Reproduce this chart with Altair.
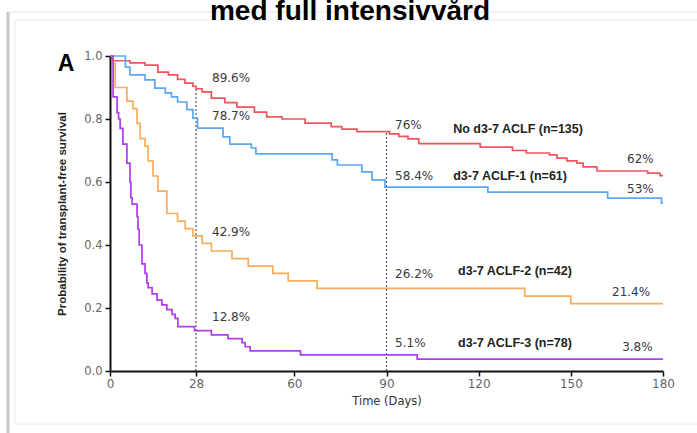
import altair as alt
import pandas as pd

# ---- data ----
series_names = ["No d3-7 ACLF", "d3-7 ACLF-1", "d3-7 ACLF-2", "d3-7 ACLF-3"]
series_colors = ["#f0545c", "#5ba8f0", "#f6ad5c", "#b03cf0"]

red_t = [0, 1, 6.5, 11.4, 15.6, 19, 22, 24.4, 27, 28, 30, 33, 37.4, 41.3, 47, 51, 56, 63.5, 72, 75.5, 80.4,
         91, 94, 97, 100.5, 120.5, 131, 135.5, 143, 145.5, 148.7, 152, 154, 158.5, 175, 179, 180]
red_s = [1.0, 0.985, 0.978, 0.971, 0.949, 0.94, 0.926, 0.914, 0.904, 0.896, 0.886, 0.866, 0.852, 0.838, 0.822,
         0.807, 0.8, 0.787, 0.776, 0.768, 0.76, 0.753, 0.745, 0.737, 0.722, 0.711, 0.70, 0.692, 0.686, 0.676,
         0.667, 0.66, 0.648, 0.635, 0.628, 0.62, 0.62]

blue_t = [0, 5, 6.5, 11.4, 14.6, 18, 20, 22, 25, 27, 28.5, 36.8, 39, 46, 47.5, 72.3, 74, 82, 85.3, 89.5,
          123, 162, 179.5, 180]
blue_s = [1.0, 0.965, 0.94, 0.924, 0.898, 0.883, 0.87, 0.854, 0.83, 0.803, 0.771, 0.743, 0.72, 0.708, 0.689,
          0.67, 0.654, 0.632, 0.607, 0.584, 0.568, 0.549, 0.533, 0.533]

orange_t = [0, 1, 1.7, 5.5, 7.5, 8.8, 9.8, 11.4, 12.4, 14, 15.6, 18.5, 22, 24.5, 27, 30, 33, 39.7, 45, 53,
            58, 67.4, 135, 150, 180]
orange_s = [1.0, 0.976, 0.9, 0.857, 0.833, 0.786, 0.738, 0.714, 0.667, 0.619, 0.571, 0.50, 0.476, 0.452,
            0.429, 0.405, 0.381, 0.357, 0.333, 0.31, 0.286, 0.262, 0.238, 0.214, 0.214]

purple_t = [0, 1, 2.3, 2.8, 3.3, 4.2, 5.5, 6.5, 6.8, 7.2, 8.8, 9.1, 9.5, 10.4, 11.4, 12, 12.4, 13.7, 15.3,
            16.9, 18.5, 20.2, 21.2, 22.1, 27.5, 33, 38.4, 43, 44, 45.6, 62, 100, 180]
purple_s = [1.0, 0.87, 0.82, 0.80, 0.77, 0.72, 0.66, 0.60, 0.55, 0.53, 0.49, 0.45, 0.40, 0.34, 0.31, 0.28,
            0.265, 0.245, 0.225, 0.21, 0.195, 0.18, 0.167, 0.141, 0.128, 0.115, 0.103, 0.09, 0.077, 0.064,
            0.051, 0.038, 0.038]

# dotted reference lines (time, upper end on the top curve)
ref_t = [28, 90]
ref_top = [0.896, 0.76]

# percentage annotations (anchor time, anchor survival, text)
pct_t = [33.2, 33.2, 33.2, 33.2, 92.8, 92.8, 92.8, 92.8, 168.3, 168.3, 163.4, 166.7]
pct_s = [0.930, 0.810, 0.441, 0.171, 0.781, 0.619, 0.308, 0.089, 0.673, 0.578, 0.251, 0.076]
pct_text = ["89.6%", "78.7%", "42.9%", "12.8%", "76%", "58.4%", "26.2%", "5.1%", "62%", "53%", "21.4%", "3.8%"]

# group name annotations
name_t = [111.7, 111.7, 113.3, 113.3]
name_s = [0.768, 0.619, 0.317, 0.089]
name_text = ["No d3-7 ACLF (n=135)", "d3-7 ACLF-1 (n=61)", "d3-7 ACLF-2 (n=42)", "d3-7 ACLF-3 (n=78)"]

x_ticks = [0, 28, 60, 90, 120, 150, 180]
y_ticks = [0, 0.2, 0.4, 0.6, 0.8, 1.0]

# ---- tables ----
rows = []
for name, ts, ss in zip(series_names, [red_t, blue_t, orange_t, purple_t], [red_s, blue_s, orange_s, purple_s]):
    for t, s in zip(ts, ss):
        rows.append({"group": name, "t": t, "s": s})
curves = pd.DataFrame(rows)
refs = pd.DataFrame({"t": ref_t, "top": ref_top, "bottom": [0, 0]})
pcts = pd.DataFrame({"t": pct_t, "s": pct_s, "label": pct_text})
names = pd.DataFrame({"t": name_t, "s": name_s, "label": name_text})
one = pd.DataFrame({"k": [0]})

W, H = 553, 315
PL, PT = 110, 56

xscale = alt.Scale(domain=[0, 180], nice=False, zero=False)
yscale = alt.Scale(domain=[0, 1], nice=False)

xaxis = alt.Axis(values=x_ticks, title="Time (Days)", grid=False, labelFlush=False,
                 domainColor="#111", domainWidth=2, tickColor="#111", tickWidth=1.5, tickSize=5,
                 labelColor="#666", labelFont="DejaVu Sans", labelFontSize=12, labelPadding=2,
                 titleFont="DejaVu Sans", titleFontSize=11.5, titleFontWeight="normal",
                 titleColor="#333", titlePadding=6)
yaxis = alt.Axis(values=y_ticks, format=".1f", title="Probability of transplant-free survival", grid=False,
                 labelFlush=False, domainColor="#111", domainWidth=2, tickColor="#111", tickWidth=1.5,
                 tickSize=5, labelColor="#666", labelFont="DejaVu Sans", labelFontSize=11.5, labelPadding=3,
                 titleFont="Liberation Sans", titleFontSize=11.5, titleFontWeight="bold",
                 titleColor="#222", titlePadding=16)

# decorative frame of the slide picture
frame_left = alt.Chart(one).mark_rule(color="#c8c8c8", strokeWidth=3).encode(
    x=alt.value(8 - PL), y=alt.value(12 - PT), y2=alt.value(433 - PT))
frame_top = alt.Chart(one).mark_rule(color="#e2e2e2", strokeWidth=1).encode(
    x=alt.value(8 - PL), x2=alt.value(697 - PL), y=alt.value(12 - PT))
inner_box = alt.Chart(one).mark_rect(fill="transparent", stroke="#ececec", strokeWidth=1).encode(
    x=alt.value(15 - PL), x2=alt.value(700 - PL), y=alt.value(20 - PT), y2=alt.value(424 - PT))

lines = alt.Chart(curves).mark_line(interpolate="step-after", strokeWidth=1.7).encode(
    x=alt.X("t:Q", scale=xscale, axis=xaxis),
    y=alt.Y("s:Q", scale=yscale, axis=yaxis),
    color=alt.Color("group:N", scale=alt.Scale(domain=series_names, range=series_colors), legend=None),
    detail="group:N",
)

dotted = alt.Chart(refs).mark_rule(color="#555", strokeDash=[2, 2], strokeWidth=1.2).encode(
    x="t:Q", y="bottom:Q", y2="top:Q")

pct_layer = alt.Chart(pcts).mark_text(align="left", baseline="middle", font="DejaVu Sans",
                                      fontSize=12, color="#3a3a3a").encode(
    x="t:Q", y="s:Q", text="label:N")

name_layer = alt.Chart(names).mark_text(align="left", baseline="middle", font="Liberation Sans",
                                        fontSize=12.5, fontWeight="bold", color="#222").encode(
    x="t:Q", y="s:Q", text="label:N")

panel_letter = alt.Chart(one).mark_text(text="A", font="Liberation Sans", fontSize=23, fontWeight="bold",
                                        color="#000", align="center", baseline="middle").encode(
    x=alt.value(66 - PL), y=alt.value(64 - PT))

slide_title = alt.Chart(one).mark_text(text="med full intensivvård",
                                       font="Liberation Sans Narrow, Liberation Sans", fontSize=28,
                                       fontWeight="bold", color="#000", align="center",
                                       baseline="alphabetic").encode(
    x=alt.value(350 - PL), y=alt.value(20 - PT))

chart = alt.layer(
    frame_left, frame_top, inner_box, dotted, lines, pct_layer, name_layer, panel_letter, slide_title
).properties(
    width=W, height=H,
    autosize=alt.AutoSizeParams(type="none"),
    padding={"left": PL, "top": PT, "right": 697 - PL - W, "bottom": 433 - PT - H},
    background="white",
).configure_view(strokeWidth=0)

chart.save("out.html", embed_options={"renderer": "svg", "actions": False})
